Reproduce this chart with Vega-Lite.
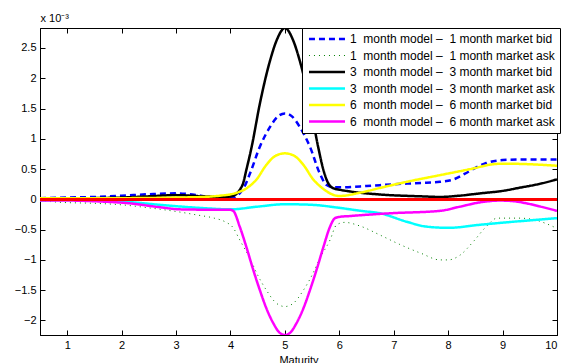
{
  "$schema": "https://vega.github.io/schema/vega-lite/v6.json",
  "width": 517,
  "height": 307,
  "autosize": "none",
  "padding": {"left": 40, "top": 28, "right": 5, "bottom": 28},
  "background": "white",
  "config": {
    "font": "Liberation Sans",
    "view": {"stroke": "black", "strokeWidth": 1},
    "axis": {
      "grid": false,
      "domainColor": "black",
      "tickColor": "black",
      "labelColor": "black",
      "titleColor": "black",
      "labelFont": "Liberation Sans",
      "titleFont": "Liberation Sans",
      "labelFontSize": 11,
      "titleFontSize": 11,
      "titleFontWeight": "normal",
      "tickSize": -5,
      "labelPadding": 9
    }
  },
  "data": {
    "values": [
      {"maturity": 0.5, "series": "1\u00a0 month model \u2013\u00a0 1 month market bid", "diff": 0.02},
      {"maturity": 1, "series": "1\u00a0 month model \u2013\u00a0 1 month market bid", "diff": 0.03},
      {"maturity": 1.5, "series": "1\u00a0 month model \u2013\u00a0 1 month market bid", "diff": 0.04},
      {"maturity": 2, "series": "1\u00a0 month model \u2013\u00a0 1 month market bid", "diff": 0.06},
      {"maturity": 2.5, "series": "1\u00a0 month model \u2013\u00a0 1 month market bid", "diff": 0.085},
      {"maturity": 3, "series": "1\u00a0 month model \u2013\u00a0 1 month market bid", "diff": 0.1},
      {"maturity": 3.3, "series": "1\u00a0 month model \u2013\u00a0 1 month market bid", "diff": 0.08},
      {"maturity": 3.6, "series": "1\u00a0 month model \u2013\u00a0 1 month market bid", "diff": 0.04},
      {"maturity": 3.9, "series": "1\u00a0 month model \u2013\u00a0 1 month market bid", "diff": 0.02},
      {"maturity": 4.05, "series": "1\u00a0 month model \u2013\u00a0 1 month market bid", "diff": 0.03},
      {"maturity": 4.15, "series": "1\u00a0 month model \u2013\u00a0 1 month market bid", "diff": 0.08},
      {"maturity": 4.25, "series": "1\u00a0 month model \u2013\u00a0 1 month market bid", "diff": 0.2},
      {"maturity": 4.36, "series": "1\u00a0 month model \u2013\u00a0 1 month market bid", "diff": 0.43},
      {"maturity": 4.54, "series": "1\u00a0 month model \u2013\u00a0 1 month market bid", "diff": 0.87},
      {"maturity": 4.73, "series": "1\u00a0 month model \u2013\u00a0 1 month market bid", "diff": 1.2},
      {"maturity": 4.87, "series": "1\u00a0 month model \u2013\u00a0 1 month market bid", "diff": 1.37},
      {"maturity": 5, "series": "1\u00a0 month model \u2013\u00a0 1 month market bid", "diff": 1.42},
      {"maturity": 5.13, "series": "1\u00a0 month model \u2013\u00a0 1 month market bid", "diff": 1.37},
      {"maturity": 5.27, "series": "1\u00a0 month model \u2013\u00a0 1 month market bid", "diff": 1.2},
      {"maturity": 5.46, "series": "1\u00a0 month model \u2013\u00a0 1 month market bid", "diff": 0.87},
      {"maturity": 5.64, "series": "1\u00a0 month model \u2013\u00a0 1 month market bid", "diff": 0.43},
      {"maturity": 5.76, "series": "1\u00a0 month model \u2013\u00a0 1 month market bid", "diff": 0.24},
      {"maturity": 5.88, "series": "1\u00a0 month model \u2013\u00a0 1 month market bid", "diff": 0.2},
      {"maturity": 6, "series": "1\u00a0 month model \u2013\u00a0 1 month market bid", "diff": 0.2},
      {"maturity": 6.5, "series": "1\u00a0 month model \u2013\u00a0 1 month market bid", "diff": 0.22},
      {"maturity": 7, "series": "1\u00a0 month model \u2013\u00a0 1 month market bid", "diff": 0.25},
      {"maturity": 7.5, "series": "1\u00a0 month model \u2013\u00a0 1 month market bid", "diff": 0.27},
      {"maturity": 7.85, "series": "1\u00a0 month model \u2013\u00a0 1 month market bid", "diff": 0.29},
      {"maturity": 8.1, "series": "1\u00a0 month model \u2013\u00a0 1 month market bid", "diff": 0.33},
      {"maturity": 8.3, "series": "1\u00a0 month model \u2013\u00a0 1 month market bid", "diff": 0.42},
      {"maturity": 8.5, "series": "1\u00a0 month model \u2013\u00a0 1 month market bid", "diff": 0.52},
      {"maturity": 8.7, "series": "1\u00a0 month model \u2013\u00a0 1 month market bid", "diff": 0.6},
      {"maturity": 8.9, "series": "1\u00a0 month model \u2013\u00a0 1 month market bid", "diff": 0.64},
      {"maturity": 9, "series": "1\u00a0 month model \u2013\u00a0 1 month market bid", "diff": 0.65},
      {"maturity": 9.5, "series": "1\u00a0 month model \u2013\u00a0 1 month market bid", "diff": 0.66},
      {"maturity": 10, "series": "1\u00a0 month model \u2013\u00a0 1 month market bid", "diff": 0.66},

      {"maturity": 0.5, "series": "1\u00a0 month model \u2013\u00a0 1 month market ask", "diff": -0.02},
      {"maturity": 0.9, "series": "1\u00a0 month model \u2013\u00a0 1 month market ask", "diff": -0.05},
      {"maturity": 1.5, "series": "1\u00a0 month model \u2013\u00a0 1 month market ask", "diff": -0.065},
      {"maturity": 2, "series": "1\u00a0 month model \u2013\u00a0 1 month market ask", "diff": -0.09},
      {"maturity": 2.5, "series": "1\u00a0 month model \u2013\u00a0 1 month market ask", "diff": -0.14},
      {"maturity": 3, "series": "1\u00a0 month model \u2013\u00a0 1 month market ask", "diff": -0.2},
      {"maturity": 3.4, "series": "1\u00a0 month model \u2013\u00a0 1 month market ask", "diff": -0.26},
      {"maturity": 3.7, "series": "1\u00a0 month model \u2013\u00a0 1 month market ask", "diff": -0.31},
      {"maturity": 3.9, "series": "1\u00a0 month model \u2013\u00a0 1 month market ask", "diff": -0.37},
      {"maturity": 4.05, "series": "1\u00a0 month model \u2013\u00a0 1 month market ask", "diff": -0.47},
      {"maturity": 4.17, "series": "1\u00a0 month model \u2013\u00a0 1 month market ask", "diff": -0.67},
      {"maturity": 4.36, "series": "1\u00a0 month model \u2013\u00a0 1 month market ask", "diff": -0.98},
      {"maturity": 4.5, "series": "1\u00a0 month model \u2013\u00a0 1 month market ask", "diff": -1.25},
      {"maturity": 4.66, "series": "1\u00a0 month model \u2013\u00a0 1 month market ask", "diff": -1.5},
      {"maturity": 4.85, "series": "1\u00a0 month model \u2013\u00a0 1 month market ask", "diff": -1.72},
      {"maturity": 5, "series": "1\u00a0 month model \u2013\u00a0 1 month market ask", "diff": -1.77},
      {"maturity": 5.15, "series": "1\u00a0 month model \u2013\u00a0 1 month market ask", "diff": -1.72},
      {"maturity": 5.34, "series": "1\u00a0 month model \u2013\u00a0 1 month market ask", "diff": -1.5},
      {"maturity": 5.5, "series": "1\u00a0 month model \u2013\u00a0 1 month market ask", "diff": -1.25},
      {"maturity": 5.64, "series": "1\u00a0 month model \u2013\u00a0 1 month market ask", "diff": -0.98},
      {"maturity": 5.83, "series": "1\u00a0 month model \u2013\u00a0 1 month market ask", "diff": -0.67},
      {"maturity": 5.95, "series": "1\u00a0 month model \u2013\u00a0 1 month market ask", "diff": -0.42},
      {"maturity": 6.1, "series": "1\u00a0 month model \u2013\u00a0 1 month market ask", "diff": -0.38},
      {"maturity": 6.38, "series": "1\u00a0 month model \u2013\u00a0 1 month market ask", "diff": -0.44},
      {"maturity": 6.75, "series": "1\u00a0 month model \u2013\u00a0 1 month market ask", "diff": -0.59},
      {"maturity": 7.1, "series": "1\u00a0 month model \u2013\u00a0 1 month market ask", "diff": -0.74},
      {"maturity": 7.5, "series": "1\u00a0 month model \u2013\u00a0 1 month market ask", "diff": -0.89},
      {"maturity": 7.85, "series": "1\u00a0 month model \u2013\u00a0 1 month market ask", "diff": -1.0},
      {"maturity": 8, "series": "1\u00a0 month model \u2013\u00a0 1 month market ask", "diff": -1.0},
      {"maturity": 8.22, "series": "1\u00a0 month model \u2013\u00a0 1 month market ask", "diff": -0.92},
      {"maturity": 8.46, "series": "1\u00a0 month model \u2013\u00a0 1 month market ask", "diff": -0.7},
      {"maturity": 8.7, "series": "1\u00a0 month model \u2013\u00a0 1 month market ask", "diff": -0.45},
      {"maturity": 8.9, "series": "1\u00a0 month model \u2013\u00a0 1 month market ask", "diff": -0.31},
      {"maturity": 9.3, "series": "1\u00a0 month model \u2013\u00a0 1 month market ask", "diff": -0.31},
      {"maturity": 9.6, "series": "1\u00a0 month model \u2013\u00a0 1 month market ask", "diff": -0.34},
      {"maturity": 9.8, "series": "1\u00a0 month model \u2013\u00a0 1 month market ask", "diff": -0.4},
      {"maturity": 10, "series": "1\u00a0 month model \u2013\u00a0 1 month market ask", "diff": -0.48},

      {"maturity": 0.5, "series": "3\u00a0 month model \u2013\u00a0 3 month market bid", "diff": 0},
      {"maturity": 1, "series": "3\u00a0 month model \u2013\u00a0 3 month market bid", "diff": 0.01},
      {"maturity": 1.5, "series": "3\u00a0 month model \u2013\u00a0 3 month market bid", "diff": 0.02},
      {"maturity": 2, "series": "3\u00a0 month model \u2013\u00a0 3 month market bid", "diff": 0.03},
      {"maturity": 2.5, "series": "3\u00a0 month model \u2013\u00a0 3 month market bid", "diff": 0.05},
      {"maturity": 3, "series": "3\u00a0 month model \u2013\u00a0 3 month market bid", "diff": 0.07},
      {"maturity": 3.5, "series": "3\u00a0 month model \u2013\u00a0 3 month market bid", "diff": 0.05},
      {"maturity": 3.9, "series": "3\u00a0 month model \u2013\u00a0 3 month market bid", "diff": 0.04},
      {"maturity": 4.05, "series": "3\u00a0 month model \u2013\u00a0 3 month market bid", "diff": 0.06},
      {"maturity": 4.12, "series": "3\u00a0 month model \u2013\u00a0 3 month market bid", "diff": 0.1},
      {"maturity": 4.18, "series": "3\u00a0 month model \u2013\u00a0 3 month market bid", "diff": 0.17},
      {"maturity": 4.23, "series": "3\u00a0 month model \u2013\u00a0 3 month market bid", "diff": 0.26},
      {"maturity": 4.29, "series": "3\u00a0 month model \u2013\u00a0 3 month market bid", "diff": 0.48},
      {"maturity": 4.39, "series": "3\u00a0 month model \u2013\u00a0 3 month market bid", "diff": 0.87},
      {"maturity": 4.54, "series": "3\u00a0 month model \u2013\u00a0 3 month market bid", "diff": 1.58},
      {"maturity": 4.73, "series": "3\u00a0 month model \u2013\u00a0 3 month market bid", "diff": 2.3},
      {"maturity": 4.85, "series": "3\u00a0 month model \u2013\u00a0 3 month market bid", "diff": 2.63},
      {"maturity": 5, "series": "3\u00a0 month model \u2013\u00a0 3 month market bid", "diff": 2.83},
      {"maturity": 5.15, "series": "3\u00a0 month model \u2013\u00a0 3 month market bid", "diff": 2.63},
      {"maturity": 5.27, "series": "3\u00a0 month model \u2013\u00a0 3 month market bid", "diff": 2.3},
      {"maturity": 5.46, "series": "3\u00a0 month model \u2013\u00a0 3 month market bid", "diff": 1.58},
      {"maturity": 5.61, "series": "3\u00a0 month model \u2013\u00a0 3 month market bid", "diff": 0.87},
      {"maturity": 5.71, "series": "3\u00a0 month model \u2013\u00a0 3 month market bid", "diff": 0.48},
      {"maturity": 5.8, "series": "3\u00a0 month model \u2013\u00a0 3 month market bid", "diff": 0.26},
      {"maturity": 5.9, "series": "3\u00a0 month model \u2013\u00a0 3 month market bid", "diff": 0.18},
      {"maturity": 6, "series": "3\u00a0 month model \u2013\u00a0 3 month market bid", "diff": 0.16},
      {"maturity": 6.2, "series": "3\u00a0 month model \u2013\u00a0 3 month market bid", "diff": 0.13},
      {"maturity": 6.75, "series": "3\u00a0 month model \u2013\u00a0 3 month market bid", "diff": 0.08},
      {"maturity": 7.5, "series": "3\u00a0 month model \u2013\u00a0 3 month market bid", "diff": 0.05},
      {"maturity": 7.85, "series": "3\u00a0 month model \u2013\u00a0 3 month market bid", "diff": 0.04},
      {"maturity": 8.2, "series": "3\u00a0 month model \u2013\u00a0 3 month market bid", "diff": 0.06},
      {"maturity": 8.6, "series": "3\u00a0 month model \u2013\u00a0 3 month market bid", "diff": 0.1},
      {"maturity": 9, "series": "3\u00a0 month model \u2013\u00a0 3 month market bid", "diff": 0.14},
      {"maturity": 9.3, "series": "3\u00a0 month model \u2013\u00a0 3 month market bid", "diff": 0.19},
      {"maturity": 9.7, "series": "3\u00a0 month model \u2013\u00a0 3 month market bid", "diff": 0.26},
      {"maturity": 10, "series": "3\u00a0 month model \u2013\u00a0 3 month market bid", "diff": 0.33},

      {"maturity": 0.5, "series": "3\u00a0 month model \u2013\u00a0 3 month market ask", "diff": -0.02},
      {"maturity": 1, "series": "3\u00a0 month model \u2013\u00a0 3 month market ask", "diff": -0.01},
      {"maturity": 1.6, "series": "3\u00a0 month model \u2013\u00a0 3 month market ask", "diff": -0.02},
      {"maturity": 2.15, "series": "3\u00a0 month model \u2013\u00a0 3 month market ask", "diff": -0.045},
      {"maturity": 2.7, "series": "3\u00a0 month model \u2013\u00a0 3 month market ask", "diff": -0.09},
      {"maturity": 3.26, "series": "3\u00a0 month model \u2013\u00a0 3 month market ask", "diff": -0.13},
      {"maturity": 3.6, "series": "3\u00a0 month model \u2013\u00a0 3 month market ask", "diff": -0.15},
      {"maturity": 4, "series": "3\u00a0 month model \u2013\u00a0 3 month market ask", "diff": -0.165},
      {"maturity": 4.5, "series": "3\u00a0 month model \u2013\u00a0 3 month market ask", "diff": -0.12},
      {"maturity": 5, "series": "3\u00a0 month model \u2013\u00a0 3 month market ask", "diff": -0.08},
      {"maturity": 5.5, "series": "3\u00a0 month model \u2013\u00a0 3 month market ask", "diff": -0.09},
      {"maturity": 6, "series": "3\u00a0 month model \u2013\u00a0 3 month market ask", "diff": -0.14},
      {"maturity": 6.4, "series": "3\u00a0 month model \u2013\u00a0 3 month market ask", "diff": -0.19},
      {"maturity": 6.75, "series": "3\u00a0 month model \u2013\u00a0 3 month market ask", "diff": -0.23},
      {"maturity": 7.24, "series": "3\u00a0 month model \u2013\u00a0 3 month market ask", "diff": -0.37},
      {"maturity": 7.6, "series": "3\u00a0 month model \u2013\u00a0 3 month market ask", "diff": -0.45},
      {"maturity": 8, "series": "3\u00a0 month model \u2013\u00a0 3 month market ask", "diff": -0.47},
      {"maturity": 8.58, "series": "3\u00a0 month model \u2013\u00a0 3 month market ask", "diff": -0.42},
      {"maturity": 9.19, "series": "3\u00a0 month model \u2013\u00a0 3 month market ask", "diff": -0.37},
      {"maturity": 9.6, "series": "3\u00a0 month model \u2013\u00a0 3 month market ask", "diff": -0.34},
      {"maturity": 10, "series": "3\u00a0 month model \u2013\u00a0 3 month market ask", "diff": -0.31},

      {"maturity": 0.5, "series": "6\u00a0 month model \u2013\u00a0 6 month market bid", "diff": 0.02},
      {"maturity": 1, "series": "6\u00a0 month model \u2013\u00a0 6 month market bid", "diff": 0.02},
      {"maturity": 2, "series": "6\u00a0 month model \u2013\u00a0 6 month market bid", "diff": 0.02},
      {"maturity": 3, "series": "6\u00a0 month model \u2013\u00a0 6 month market bid", "diff": 0.03},
      {"maturity": 3.5, "series": "6\u00a0 month model \u2013\u00a0 6 month market bid", "diff": 0.04},
      {"maturity": 3.8, "series": "6\u00a0 month model \u2013\u00a0 6 month market bid", "diff": 0.06},
      {"maturity": 4.08, "series": "6\u00a0 month model \u2013\u00a0 6 month market bid", "diff": 0.1},
      {"maturity": 4.29, "series": "6\u00a0 month model \u2013\u00a0 6 month market bid", "diff": 0.18},
      {"maturity": 4.48, "series": "6\u00a0 month model \u2013\u00a0 6 month market bid", "diff": 0.33},
      {"maturity": 4.66, "series": "6\u00a0 month model \u2013\u00a0 6 month market bid", "diff": 0.57},
      {"maturity": 4.83, "series": "6\u00a0 month model \u2013\u00a0 6 month market bid", "diff": 0.72},
      {"maturity": 5, "series": "6\u00a0 month model \u2013\u00a0 6 month market bid", "diff": 0.76},
      {"maturity": 5.17, "series": "6\u00a0 month model \u2013\u00a0 6 month market bid", "diff": 0.72},
      {"maturity": 5.34, "series": "6\u00a0 month model \u2013\u00a0 6 month market bid", "diff": 0.57},
      {"maturity": 5.52, "series": "6\u00a0 month model \u2013\u00a0 6 month market bid", "diff": 0.33},
      {"maturity": 5.71, "series": "6\u00a0 month model \u2013\u00a0 6 month market bid", "diff": 0.17},
      {"maturity": 5.85, "series": "6\u00a0 month model \u2013\u00a0 6 month market bid", "diff": 0.09},
      {"maturity": 6, "series": "6\u00a0 month model \u2013\u00a0 6 month market bid", "diff": 0.055},
      {"maturity": 6.38, "series": "6\u00a0 month model \u2013\u00a0 6 month market bid", "diff": 0.11},
      {"maturity": 6.8, "series": "6\u00a0 month model \u2013\u00a0 6 month market bid", "diff": 0.2},
      {"maturity": 7.24, "series": "6\u00a0 month model \u2013\u00a0 6 month market bid", "diff": 0.29},
      {"maturity": 7.85, "series": "6\u00a0 month model \u2013\u00a0 6 month market bid", "diff": 0.4},
      {"maturity": 8.46, "series": "6\u00a0 month model \u2013\u00a0 6 month market bid", "diff": 0.51},
      {"maturity": 8.82, "series": "6\u00a0 month model \u2013\u00a0 6 month market bid", "diff": 0.58},
      {"maturity": 9, "series": "6\u00a0 month model \u2013\u00a0 6 month market bid", "diff": 0.59},
      {"maturity": 9.5, "series": "6\u00a0 month model \u2013\u00a0 6 month market bid", "diff": 0.58},
      {"maturity": 10, "series": "6\u00a0 month model \u2013\u00a0 6 month market bid", "diff": 0.555},

      {"maturity": 0.5, "series": "6\u00a0 month model \u2013\u00a0 6 month market ask", "diff": -0.02},
      {"maturity": 1, "series": "6\u00a0 month model \u2013\u00a0 6 month market ask", "diff": -0.02},
      {"maturity": 1.6, "series": "6\u00a0 month model \u2013\u00a0 6 month market ask", "diff": -0.035},
      {"maturity": 2.15, "series": "6\u00a0 month model \u2013\u00a0 6 month market ask", "diff": -0.066},
      {"maturity": 2.7, "series": "6\u00a0 month model \u2013\u00a0 6 month market ask", "diff": -0.13},
      {"maturity": 3.07, "series": "6\u00a0 month model \u2013\u00a0 6 month market ask", "diff": -0.165},
      {"maturity": 3.5, "series": "6\u00a0 month model \u2013\u00a0 6 month market ask", "diff": -0.17},
      {"maturity": 3.98, "series": "6\u00a0 month model \u2013\u00a0 6 month market ask", "diff": -0.17},
      {"maturity": 4.05, "series": "6\u00a0 month model \u2013\u00a0 6 month market ask", "diff": -0.19},
      {"maturity": 4.17, "series": "6\u00a0 month model \u2013\u00a0 6 month market ask", "diff": -0.45},
      {"maturity": 4.29, "series": "6\u00a0 month model \u2013\u00a0 6 month market ask", "diff": -0.78},
      {"maturity": 4.41, "series": "6\u00a0 month model \u2013\u00a0 6 month market ask", "diff": -1.14},
      {"maturity": 4.54, "series": "6\u00a0 month model \u2013\u00a0 6 month market ask", "diff": -1.5},
      {"maturity": 4.66, "series": "6\u00a0 month model \u2013\u00a0 6 month market ask", "diff": -1.8},
      {"maturity": 4.79, "series": "6\u00a0 month model \u2013\u00a0 6 month market ask", "diff": -2.05},
      {"maturity": 4.9, "series": "6\u00a0 month model \u2013\u00a0 6 month market ask", "diff": -2.2},
      {"maturity": 5, "series": "6\u00a0 month model \u2013\u00a0 6 month market ask", "diff": -2.24},
      {"maturity": 5.1, "series": "6\u00a0 month model \u2013\u00a0 6 month market ask", "diff": -2.2},
      {"maturity": 5.21, "series": "6\u00a0 month model \u2013\u00a0 6 month market ask", "diff": -2.05},
      {"maturity": 5.34, "series": "6\u00a0 month model \u2013\u00a0 6 month market ask", "diff": -1.8},
      {"maturity": 5.46, "series": "6\u00a0 month model \u2013\u00a0 6 month market ask", "diff": -1.5},
      {"maturity": 5.59, "series": "6\u00a0 month model \u2013\u00a0 6 month market ask", "diff": -1.14},
      {"maturity": 5.71, "series": "6\u00a0 month model \u2013\u00a0 6 month market ask", "diff": -0.78},
      {"maturity": 5.83, "series": "6\u00a0 month model \u2013\u00a0 6 month market ask", "diff": -0.45},
      {"maturity": 5.92, "series": "6\u00a0 month model \u2013\u00a0 6 month market ask", "diff": -0.31},
      {"maturity": 6, "series": "6\u00a0 month model \u2013\u00a0 6 month market ask", "diff": -0.29},
      {"maturity": 6.2, "series": "6\u00a0 month model \u2013\u00a0 6 month market ask", "diff": -0.275},
      {"maturity": 6.93, "series": "6\u00a0 month model \u2013\u00a0 6 month market ask", "diff": -0.23},
      {"maturity": 7.85, "series": "6\u00a0 month model \u2013\u00a0 6 month market ask", "diff": -0.19},
      {"maturity": 8.22, "series": "6\u00a0 month model \u2013\u00a0 6 month market ask", "diff": -0.12},
      {"maturity": 8.58, "series": "6\u00a0 month model \u2013\u00a0 6 month market ask", "diff": -0.05},
      {"maturity": 8.95, "series": "6\u00a0 month model \u2013\u00a0 6 month market ask", "diff": -0.02},
      {"maturity": 9.2, "series": "6\u00a0 month model \u2013\u00a0 6 month market ask", "diff": -0.03},
      {"maturity": 9.44, "series": "6\u00a0 month model \u2013\u00a0 6 month market ask", "diff": -0.066},
      {"maturity": 9.7, "series": "6\u00a0 month model \u2013\u00a0 6 month market ask", "diff": -0.12},
      {"maturity": 10, "series": "6\u00a0 month model \u2013\u00a0 6 month market ask", "diff": -0.19}
    ]
  },
  "resolve": {"axis": {"x": "independent", "y": "independent"}},
  "layer": [
    {
      "mark": {"type": "line", "interpolate": "monotone", "clip": true},
      "encoding": {
        "x": {
          "field": "maturity",
          "type": "quantitative",
          "scale": {"domain": [0.5, 10], "nice": false, "zero": false},
          "axis": {"orient": "bottom", "title": "Maturity", "values": [1, 2, 3, 4, 5, 6, 7, 8, 9, 10], "titlePadding": 4}
        },
        "y": {
          "field": "diff",
          "type": "quantitative",
          "scale": {"domain": [-2.24, 2.83], "nice": false, "zero": false},
          "axis": {
            "orient": "left",
            "values": [-2, -1.5, -1, -0.5, 0, 0.5, 1, 1.5, 2, 2.5],
            "format": ".1~f",
            "title": "x 10\u207b\u00b3",
            "titleAngle": 0,
            "titleAlign": "left",
            "titleBaseline": "alphabetic",
            "titleX": 0,
            "titleY": -7,
            "titleFontSize": 11
          }
        },
        "color": {
          "field": "series",
          "type": "nominal",
          "scale": {
            "domain": [
              "1\u00a0 month model \u2013\u00a0 1 month market bid",
              "1\u00a0 month model \u2013\u00a0 1 month market ask",
              "3\u00a0 month model \u2013\u00a0 3 month market bid",
              "3\u00a0 month model \u2013\u00a0 3 month market ask",
              "6\u00a0 month model \u2013\u00a0 6 month market bid",
              "6\u00a0 month model \u2013\u00a0 6 month market ask"
            ],
            "range": ["#0000ff", "#008000", "#000000", "#00ffff", "#ffff00", "#ff00ff"]
          },
          "legend": {
            "title": null,
            "orient": "none",
            "legendX": 262,
            "legendY": 0,
            "strokeColor": "black",
            "fillColor": "white",
            "padding": 5,
            "cornerRadius": 0,
            "symbolType": "M-5,0H5",
            "symbolSize": 52,
            "symbolOffset": 14,
            "labelFontSize": 12,
            "labelColor": "black",
            "labelFont": "Liberation Sans",
            "labelOffset": 17,
            "rowPadding": 4.5,
            "labelLimit": 300
          }
        },
        "strokeDash": {
          "field": "series",
          "type": "nominal",
          "scale": {
            "domain": [
              "1\u00a0 month model \u2013\u00a0 1 month market bid",
              "1\u00a0 month model \u2013\u00a0 1 month market ask",
              "3\u00a0 month model \u2013\u00a0 3 month market bid",
              "3\u00a0 month model \u2013\u00a0 3 month market ask",
              "6\u00a0 month model \u2013\u00a0 6 month market bid",
              "6\u00a0 month model \u2013\u00a0 6 month market ask"
            ],
            "range": [[6, 4], [1, 4], [1, 0], [1, 0], [1, 0], [1, 0]]
          },
          "legend": {"title": null}
        },
        "strokeWidth": {
          "field": "series",
          "type": "nominal",
          "scale": {
            "type": "ordinal",
            "domain": [
              "1\u00a0 month model \u2013\u00a0 1 month market bid",
              "1\u00a0 month model \u2013\u00a0 1 month market ask",
              "3\u00a0 month model \u2013\u00a0 3 month market bid",
              "3\u00a0 month model \u2013\u00a0 3 month market ask",
              "6\u00a0 month model \u2013\u00a0 6 month market bid",
              "6\u00a0 month model \u2013\u00a0 6 month market ask"
            ],
            "range": [2.5, 1, 2.5, 2.5, 2.5, 2.5]
          },
          "legend": {"title": null}
        }
      }
    },
    {
      "mark": {"type": "rule", "color": "#ff0000", "strokeWidth": 2},
      "encoding": {
        "x": {"datum": 0.5, "type": "quantitative", "axis": {"orient": "top", "labels": false, "title": null, "values": [1, 2, 3, 4, 5, 6, 7, 8, 9, 10]}},
        "x2": {"datum": 10},
        "y": {"datum": 0, "type": "quantitative", "axis": {"orient": "right", "labels": false, "title": null, "values": [-2, -1.5, -1, -0.5, 0, 0.5, 1, 1.5, 2, 2.5]}}
      }
    }
  ]
}
